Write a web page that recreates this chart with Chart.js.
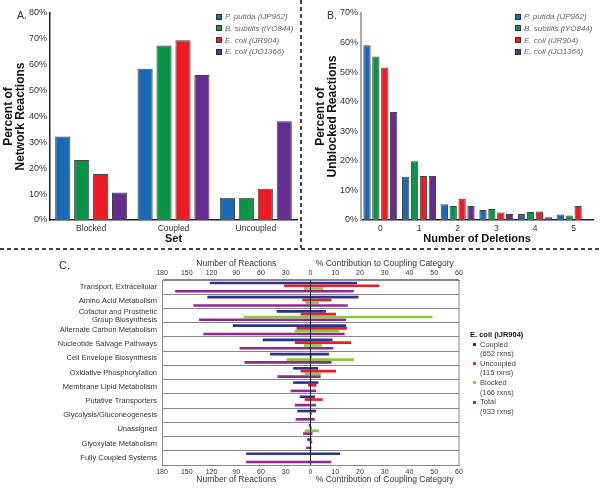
<!DOCTYPE html>
<html>
<head>
<meta charset="utf-8">
<script src="https://cdn.jsdelivr.net/npm/chart.js@4.4.1/dist/chart.umd.min.js"></script>
<style>
  body { margin: 0; background: #fff; font-family: "Liberation Sans", Arial, sans-serif; }
  #page { position: relative; width: 600px; height: 494px; overflow: hidden; }
  canvas { position: absolute; }
  .panel-label { position: absolute; font-size: 10.5px; color: #333; line-height: 1; }
  .legend { position: absolute; font-size: 8px; font-style: italic; color: #666; }
  .legend .row { height: 11.8px; line-height: 11.8px; white-space: nowrap; }
  .legend .sw { display: inline-block; width: 4px; height: 4px; border: 1px solid #333; margin-right: 3px; vertical-align: -0.5px; }
  #legendC { position: absolute; left: 470px; top: 330px; font-size: 7.5px; color: #444; }
  #legendC .title { font-weight: bold; color: #111; height: 9.6px; line-height: 9.6px; }
  #legendC .row { height: 9.6px; line-height: 9.6px; padding-left: 10px; position: relative; white-space: nowrap; }
  #legendC .sw { position: absolute; left: 3px; top: 3.5px; width: 3px; height: 3px; }
  .hdash { position: absolute; left: 0; top: 248px; width: 600px; height: 1.6px;
           background: repeating-linear-gradient(to right, #444 0 4px, transparent 4px 7px); }
  .vdash { position: absolute; left: 300px; top: 0; width: 1.6px; height: 248px;
           background: repeating-linear-gradient(to bottom, #444 0 4px, transparent 4px 7px); }
</style>
</head>
<body>
<div id="page">
  <canvas id="chartA" width="300" height="246" style="left:0;top:0"></canvas>
  <canvas id="chartB" width="298" height="246" style="left:302px;top:0"></canvas>
  <canvas id="chartC" width="600" height="244" style="left:0;top:250px"></canvas>
  <div class="panel-label" style="left:17px;top:10px">A.</div>
  <div class="panel-label" style="left:327px;top:10px">B.</div>
  <div class="panel-label" style="left:59px;top:260px;font-size:11px">C.</div>
  <div class="legend" id="legendA" style="left:216px;top:11px"></div>
  <div class="legend" id="legendB" style="left:515px;top:11px"></div>
  <div id="legendC"></div>
  <div class="hdash"></div>
  <div class="vdash"></div>
</div>
<script>
// ---- Panel A: share of network reactions per set ----
const modelNames = ['P. putida (iJP962)', 'B. subtilis (iYO844)', 'E. coli (iJR904)', 'E. coli (iJO1366)'];
const modelColors = ['#1b6ab5', '#0a9447', '#ed1c24', '#652d90'];
const setLabels = ['Blocked', 'Coupled', 'Uncoupled'];
const putidaSet = [32.3, 58.5, 8.6];
const subtilisSet = [23.2, 67.4, 8.6];
const jr904Set = [17.8, 69.5, 12.1];
const jo1366Set = [10.6, 56.0, 38.2];

// ---- Panel B: unblocked reactions by number of deletions ----
const deletionLabels = ['0', '1', '2', '3', '4', '5'];
const putidaDel = [59.1, 14.6, 5.3, 3.4, 2.0, 1.9];
const subtilisDel = [55.3, 19.9, 4.7, 3.7, 2.7, 1.5];
const jr904Del = [51.6, 14.9, 7.2, 2.5, 2.9, 4.7];
const jo1366Del = [36.5, 14.9, 4.7, 2.0, 0.9, 0.2];

// ---- Panel C: E. coli iJR904 subsystems ----
const subsystems = ['Transport, Extracellular', 'Amino Acid Metabolism', ['Cofactor and Prosthetic', 'Group Biosynthesis'],
  'Alternate Carbon Metabolism', 'Nucleotide Salvage Pathways', 'Cell Envelope Biosynthesis', 'Oxidative Phosphorylation',
  'Membrane Lipid Metabolism', 'Putative Transporters', 'Glycolysis/Gluconeogenesis', 'Unassigned',
  'Glyoxylate Metabolism', 'Fully Coupled Systems'];
const categoryNames = ['Coupled', 'Uncoupled', 'Blocked', 'Total'];
const categoryTotals = [652, 115, 166, 933];
const categoryColors = ['#2e3192', '#ed1c24', '#8dc63f', '#92278f'];
// number of reactions (left side)
const coupledCount = [122, 125, 41, 94, 58, 49, 21, 21, 13, 16, 2, 4, 78];
const uncoupledCount = [32, 10, 12, 17, 19, 1, 12, 3, 7, 1, 1, 1, 0];
const blockedCount = [8, 6, 81, 19, 8, 29, 7, 0, 0, 0, 7, 0, 0];
const totalCount = [164, 142, 135, 130, 86, 80, 40, 24, 19, 18, 9, 5, 78];
// % contribution to coupling category (right side)
const coupledPct = [18.8, 19.4, 6.2, 14.4, 8.9, 7.5, 3.0, 3.2, 1.8, 2.3, 0.1, 0.4, 12.0];
const uncoupledPct = [27.8, 8.5, 10.3, 14.8, 16.4, 0.5, 10.3, 2.4, 4.9, 0.5, 0.5, 0.7, 0];
const blockedPct = [5.2, 3.3, 49.3, 11.5, 4.6, 17.5, 4.1, 0, 0, 0, 3.4, 0, 0];
const totalPct = [17.5, 15.1, 14.4, 13.8, 9.2, 8.5, 4.1, 2.3, 2.2, 1.7, 0.8, 0.4, 8.4];

// one percent point takes the same width as three reactions
const PCT_SCALE = 3;

Chart.defaults.font.family = '"Liberation Sans", Arial, sans-serif';
Chart.defaults.color = '#333';

function buildLegend(id) {
  const el = document.getElementById(id);
  modelNames.forEach((name, i) => {
    const row = document.createElement('div');
    row.className = 'row';
    row.innerHTML = `<span class="sw" style="background:${modelColors[i]}"></span>${name}`;
    el.appendChild(row);
  });
}

function groupedBarChart(canvasId, labels, series, yMax, yTitle, xTitle, yOpts, padding, catPct, barPct) {
  return new Chart(document.getElementById(canvasId), {
    type: 'bar',
    data: {
      labels: labels,
      datasets: series.map((values, i) => ({
        label: modelNames[i],
        data: values,
        backgroundColor: modelColors[i],
        borderColor: '#444',
        borderWidth: 1,
        categoryPercentage: catPct,
        barPercentage: barPct
      }))
    },
    options: {
      responsive: false,
      animation: false,
      layout: { padding: padding },
      plugins: { legend: { display: false }, tooltip: { enabled: false } },
      scales: {
        x: {
          grid: { display: false, drawTicks: false },
          border: { color: '#222', width: 1.5 },
          ticks: { font: { size: 8.5 }, color: '#333', padding: 4 },
          title: { display: true, text: xTitle, font: { size: 11, weight: 'bold' }, color: '#111', padding: 0 },
          afterFit: s => { s.height = 26; }
        },
        y: {
          min: 0,
          max: yMax,
          grid: { display: false, drawTicks: false },
          border: yOpts.border,
          ticks: { stepSize: 10, callback: v => v + '%', font: { size: 9 }, color: '#333', padding: 3 },
          title: { display: true, text: yTitle, font: { size: 12, weight: 'bold', lineHeight: 1.05 }, color: '#111',
                   padding: { top: yOpts.titlePad, bottom: 0 } },
          afterFit: s => { s.width = yOpts.width; }
        }
      }
    }
  });
}

buildLegend('legendA');
buildLegend('legendB');

groupedBarChart('chartA', setLabels, [putidaSet, subtilisSet, jr904Set, jo1366Set], 80,
  ['Percent of', 'Network Reactions'], 'Set',
  { width: 50, titlePad: 2, border: { color: '#222', width: 1.5 } },
  { top: 13, right: 3, left: 0, bottom: 0 }, 0.92, 0.8);

groupedBarChart('chartB', deletionLabels, [putidaDel, subtilisDel, jr904Del, jo1366Del], 70,
  ['Percent of', 'Unblocked Reactions'], 'Number of Deletions',
  { width: 59, titlePad: 12, border: { color: '#aaa', width: 2 } },
  { top: 13, right: 7, left: 0, bottom: 0 }, 0.92, 0.82);

// Panel C legend (HTML)
const legendC = document.getElementById('legendC');
legendC.innerHTML = '<div class="title">E. coli (iJR904)</div>';
categoryNames.forEach((name, i) => {
  legendC.innerHTML += `<div class="row"><span class="sw" style="background:${categoryColors[i]}"></span>${name}</div>` +
    `<div class="row">(${categoryTotals[i]} rxns)</div>`;
});

const countSeries = [coupledCount, uncoupledCount, blockedCount, totalCount];
const pctSeries = [coupledPct, uncoupledPct, blockedPct, totalPct];

const tickLabel = v => (v < 0 ? -v : v / PCT_SCALE);

const panelCExtras = {
  id: 'panelCExtras',
  afterDatasetsDraw(chart) {
    const { ctx, chartArea: a, scales: { x } } = chart;
    ctx.save();
    // zero line on top of the bars
    const x0 = x.getPixelForValue(0);
    ctx.strokeStyle = '#222';
    ctx.lineWidth = 1;
    ctx.beginPath();
    ctx.moveTo(x0, a.top);
    ctx.lineTo(x0, a.bottom);
    ctx.stroke();
    // right edge of the frame
    ctx.strokeStyle = '#888';
    ctx.beginPath();
    ctx.moveTo(a.right, a.top);
    ctx.lineTo(a.right, a.bottom);
    ctx.stroke();
    // two titles on each horizontal axis
    ctx.fillStyle = '#333';
    ctx.font = '8.5px "Liberation Sans", Arial, sans-serif';
    ctx.textAlign = 'center';
    ctx.textBaseline = 'middle';
    const leftMid = x.getPixelForValue(-90);
    const rightMid = x.getPixelForValue(90);
    ctx.fillText('Number of Reactions', leftMid, 14);
    ctx.fillText('% Contribution to Coupling Category', rightMid, 14);
    ctx.fillText('Number of Reactions', leftMid, 230);
    ctx.fillText('% Contribution of Coupling Category', rightMid, 230);
    ctx.restore();
  }
};

const axisCommon = {
  type: 'linear',
  min: -180,
  max: 180,
  grid: { display: false, drawTicks: false },
  border: { color: '#888' },
  ticks: { stepSize: 30, callback: tickLabel, font: { size: 7 }, color: '#333', padding: 3 }
};

new Chart(document.getElementById('chartC'), {
  type: 'bar',
  data: {
    labels: subsystems,
    datasets: categoryNames.map((name, i) => ({
      label: name,
      data: countSeries[i].map((c, j) => [-c, pctSeries[i][j] * PCT_SCALE]),
      backgroundColor: categoryColors[i],
      borderWidth: 0,
      categoryPercentage: 0.78,
      barPercentage: 0.95,
      xAxisID: 'x'
    }))
  },
  options: {
    indexAxis: 'y',
    responsive: false,
    animation: false,
    layout: { padding: { top: 0, right: 141, left: 0, bottom: 0 } },
    plugins: { legend: { display: false }, tooltip: { enabled: false } },
    scales: {
      x: Object.assign({}, axisCommon, { position: 'bottom', afterFit: s => { s.height = 29; } }),
      x2: Object.assign({}, axisCommon, { position: 'top', afterFit: s => { s.height = 30; } }),
      y: {
        grid: { color: '#888', drawTicks: false },
        border: { color: '#888' },
        ticks: { autoSkip: false, font: { size: 7.5, lineHeight: 1.1 }, color: '#333', padding: 5 },
        afterFit: s => { s.width = 162; }
      }
    }
  },
  plugins: [panelCExtras]
});
</script>
</body>
</html>
